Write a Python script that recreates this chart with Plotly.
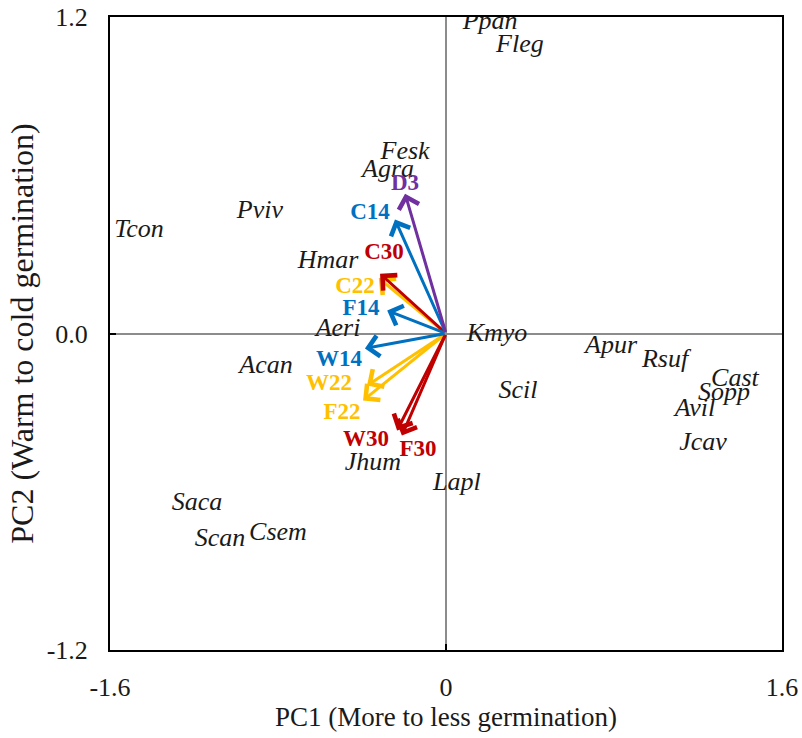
import plotly.graph_objects as go

# Species scores on the first two principal components
species = ["Ppan", "Fleg", "Fesk", "Agra", "Pviv", "Tcon", "Hmar", "Aeri", "Kmyo",
           "Acan", "Apur", "Rsuf", "Cast", "Sopp", "Avil", "Jcav", "Scil", "Jhum",
           "Lapl", "Saca", "Scan", "Csem"]
species_pc1 = [0.21, 0.352, -0.195, -0.276, -0.886, -1.462, -0.562, -0.514, 0.243,
               -0.857, 0.786, 1.043, 1.376, 1.324, 1.186, 1.224, 0.343, -0.348,
               0.052, -1.186, -1.076, -0.80]
species_pc2 = [1.18, 1.092, 0.686, 0.618, 0.463, 0.39, 0.273, 0.015, -0.004,
               -0.125, -0.049, -0.102, -0.174, -0.227, -0.288, -0.417, -0.22, -0.493,
               -0.569, -0.645, -0.781, -0.758]

# Treatment loadings (arrow tips) and their label positions
treatments = ["C22", "W22", "F22", "C30", "W30", "F30", "C14", "F14", "W14", "D3"]
load_pc1 = [-0.32, -0.376, -0.395, -0.314, -0.233, -0.21, -0.243, -0.28, -0.386, -0.195]
load_pc2 = [0.21, -0.197, -0.254, 0.227, -0.368, -0.387, 0.432, 0.087, -0.057, 0.53]
label_pc1 = [-0.433, -0.557, -0.495, -0.295, -0.381, -0.133, -0.362, -0.405, -0.51, -0.195]
label_pc2 = [0.174, -0.193, -0.303, 0.303, -0.406, -0.444, 0.455, 0.091, -0.102, 0.565]
treatment_colors = ["#FFC000", "#FFC000", "#FFC000", "#C00000", "#C00000", "#C00000",
                    "#0070C0", "#0070C0", "#0070C0", "#7030A0"]

x_ticks = [-1.6, 0, 1.6]
x_tick_text = ["-1.6", "0", "1.6"]
y_ticks = [-1.2, 0.0, 1.2]
y_tick_text = ["-1.2", "0.0", "1.2"]

FONT = "Liberation Serif"
INK = "#1a1a1a"

fig = go.Figure()

# Species names
fig.add_trace(go.Scatter(
    x=species_pc1, y=species_pc2, mode="text", text=species,
    textposition="middle center",
    textfont=dict(family=FONT, size=26, color=INK, style="italic"),
    hoverinfo="skip", showlegend=False,
))

# Treatment labels
fig.add_trace(go.Scatter(
    x=label_pc1, y=label_pc2, mode="text", text=treatments,
    textposition="middle center",
    textfont=dict(family=FONT, size=23, color=treatment_colors, weight="bold"),
    hoverinfo="skip", showlegend=False,
))

# Loading arrows drawn from the origin
annotations = []
for tx, ty, col in zip(load_pc1, load_pc2, treatment_colors):
    annotations.append(dict(
        x=tx, y=ty, ax=0, ay=0, xref="x", yref="y", axref="x", ayref="y",
        text="", showarrow=True, arrowhead=4, arrowsize=1.35, arrowwidth=3,
        arrowcolor=col, standoff=0, startstandoff=0,
    ))
fig.update_layout(annotations=annotations)

fig.update_xaxes(
    range=[-1.6, 1.6], tickvals=x_ticks, ticktext=x_tick_text,
    showgrid=False, zeroline=True, zerolinecolor="#8c8c8c", zerolinewidth=2,
    showline=True, mirror=True, linecolor="black", linewidth=2,
    ticks="inside", ticklen=6, tickwidth=2, tickcolor="black",
    ticklabelstandoff=13, automargin=False,
    tickfont=dict(family=FONT, size=26, color=INK),
    title=dict(text="PC1 (More to less germination)", standoff=2,
               font=dict(family=FONT, size=27, color=INK)),
)
fig.update_yaxes(
    range=[-1.2, 1.2], tickvals=y_ticks, ticktext=y_tick_text,
    showgrid=False, zeroline=True, zerolinecolor="#8c8c8c", zerolinewidth=2,
    showline=True, mirror=True, linecolor="black", linewidth=2,
    ticks="inside", ticklen=6, tickwidth=2, tickcolor="black",
    ticklabelstandoff=15, automargin=False,
    tickfont=dict(family=FONT, size=26, color=INK),
    title=dict(text="PC2 (Warm to cold germination)", standoff=3,
               font=dict(family=FONT, size=32, color=INK)),
)

fig.update_layout(
    width=802, height=738,
    margin=dict(l=110, r=20, t=17, b=88),
    plot_bgcolor="white", paper_bgcolor="white",
    showlegend=False,
)

fig.write_html("out.html")
